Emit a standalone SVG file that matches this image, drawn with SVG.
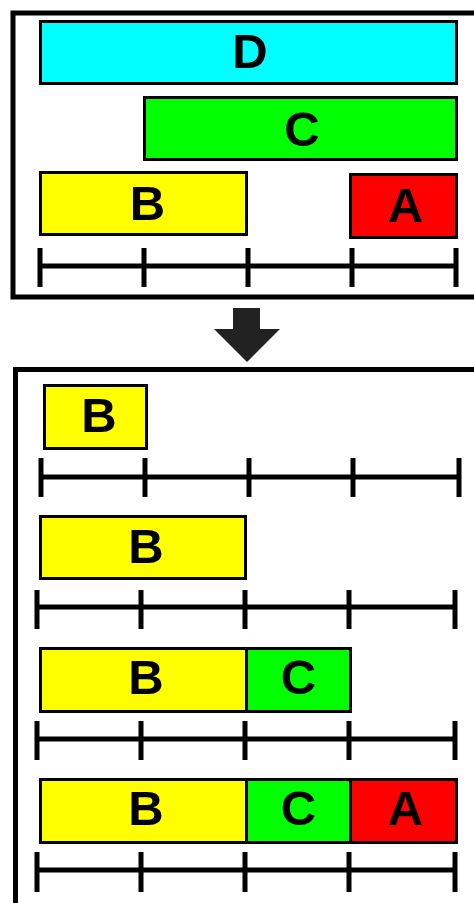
<svg xmlns="http://www.w3.org/2000/svg" width="474" height="903" viewBox="0 0 474 903">
<style>
.frame{fill:none;stroke:#000;stroke-width:5}
.bar{stroke:#000;stroke-width:3}
.ax{stroke:#000;stroke-width:5;fill:none}
.lbl{font-family:"Liberation Sans",Arial,sans-serif;font-weight:bold;font-size:49px;text-anchor:middle;fill:#000}
</style>
<rect width="474" height="903" fill="#fff"/>
<g id="top-frame"><rect class="frame" x="13" y="13" width="475" height="284"/></g>
<g id="D"><rect class="bar" x="40.5" y="21.5" width="416" height="62" fill="#00ffff"/><text class="lbl" x="250" y="68">D</text></g>
<g id="C"><rect class="bar" x="144.5" y="97.5" width="312" height="62" fill="#00ff00"/><text class="lbl" x="302" y="146">C</text></g>
<g id="B"><rect class="bar" x="40.5" y="172.5" width="206" height="62" fill="#ffff00"/><text class="lbl" x="147.5" y="220">B</text></g>
<g id="A"><rect class="bar" x="350.5" y="174.5" width="106" height="63" fill="#ff0000"/><text class="lbl" x="405.5" y="222">A</text></g>
<g id="axis-top"><path class="ax" d="M40 266H456M40 248V287M144 248V287M248 248V287M352 248V287M456 248V287"/></g>
<g id="arrow"><polygon points="233,308 260,308 260,329 280,329 247,362 214,329 233,329" fill="#222"/></g>
<g id="bottom-frame"><rect class="frame" x="15.5" y="369.5" width="470" height="545"/></g>
<g id="row1">
<rect class="bar" x="44.5" y="385.5" width="102" height="63" fill="#ffff00"/><text class="lbl" x="99" y="432">B</text>
<path class="ax" d="M41 477H459M41 458V497M145 458V497M249 458V497M353 458V497M459 458V497"/>
</g>
<g id="row2">
<rect class="bar" x="40.5" y="516.5" width="205" height="62" fill="#ffff00"/><text class="lbl" x="146" y="563">B</text>
<path class="ax" d="M37 607H455M37 590V629M141 590V629M245 590V629M349 590V629M455 590V629"/>
</g>
<g id="row3">
<rect class="bar" x="40.5" y="648.5" width="206" height="63" fill="#ffff00"/><text class="lbl" x="146" y="694">B</text>
<rect class="bar" x="246.5" y="648.5" width="104" height="63" fill="#00ff00"/><text class="lbl" x="298.5" y="694">C</text>
<path class="ax" d="M37 739H455M37 721V760M141 721V760M245 721V760M349 721V760M455 721V760"/>
</g>
<g id="row4">
<rect class="bar" x="40.5" y="779.5" width="206" height="63" fill="#ffff00"/><text class="lbl" x="146" y="825">B</text>
<rect class="bar" x="246.5" y="779.5" width="104" height="63" fill="#00ff00"/><text class="lbl" x="298.5" y="825">C</text>
<rect class="bar" x="350.5" y="779.5" width="106" height="63" fill="#ff0000"/><text class="lbl" x="405.5" y="825">A</text>
<path class="ax" d="M37 870H455M37 852V892M141 852V892M245 852V892M349 852V892M455 852V892"/>
</g>
</svg>
